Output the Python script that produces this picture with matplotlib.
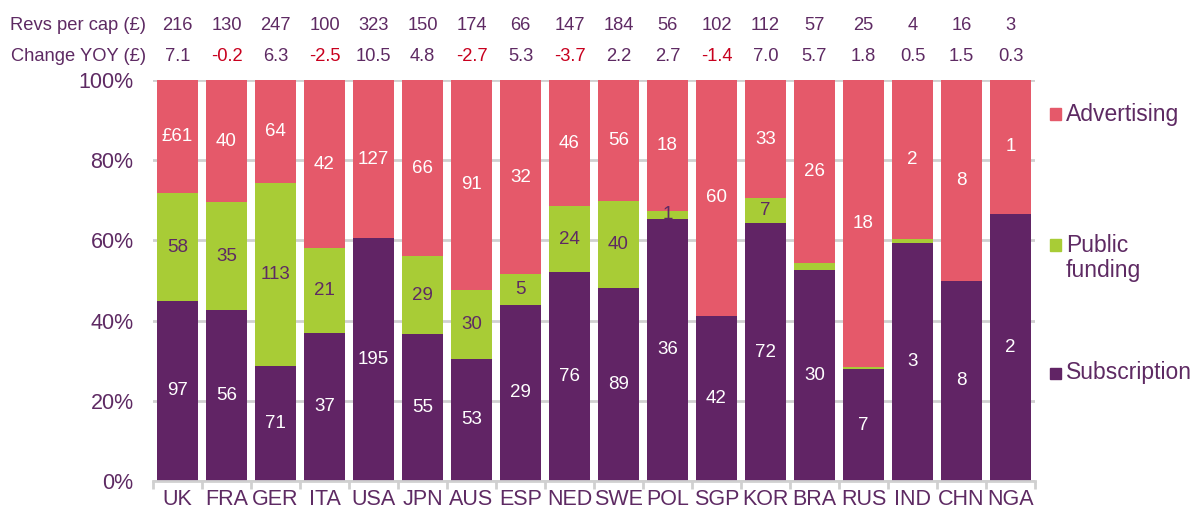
import matplotlib
matplotlib.use("Agg")
import matplotlib.pyplot as plt
from matplotlib.patches import Rectangle
from matplotlib.transforms import blended_transform_factory

plt.rcParams["font.family"] = ["Liberation Sans", "DejaVu Sans"]

countries = ["UK", "FRA", "GER", "ITA", "USA", "JPN", "AUS", "ESP", "NED",
             "SWE", "POL", "SGP", "KOR", "BRA", "RUS", "IND", "CHN", "NGA"]
subscription = [97, 56, 71, 37, 195, 55, 53, 29, 76, 89, 36, 42, 72, 30, 7, 3, 8, 2]
public_funding = [58, 35, 113, 21, 0, 29, 30, 5, 24, 40, 1, 0, 7, 1, 0.15, 0.05, 0, 0]
advertising = [61, 40, 64, 42, 127, 66, 91, 32, 46, 56, 18, 60, 33, 26, 18, 2, 8, 1]
public_labelled = [True, True, True, True, False, True, True, True, True, True,
                   True, False, True, False, False, False, False, False]
revs_per_cap = ["216", "130", "247", "100", "323", "150", "174", "66", "147",
                "184", "56", "102", "112", "57", "25", "4", "16", "3"]
change_yoy = ["7.1", "-0.2", "6.3", "-2.5", "10.5", "4.8", "-2.7", "5.3", "-3.7",
              "2.2", "2.7", "-1.4", "7.0", "5.7", "1.8", "0.5", "1.5", "0.3"]
y_ticks = [0, 20, 40, 60, 80, 100]

PURPLE = "#612465"
GREEN = "#A8CC36"
PINK = "#E5596A"
TEXT = "#5E2A63"
GRID = "#D0D0D0"

fig = plt.figure(figsize=(11.94, 5.14), dpi=100)
W, H = 1194, 514
ax = fig.add_axes([153 / W, 33 / H, 882 / W, 401 / H])

x = list(range(len(countries)))
totals = [s + p + a for s, p, a in zip(subscription, public_funding, advertising)]
sub_pct = [100 * s / t for s, t in zip(subscription, totals)]
pub_pct = [100 * p / t for p, t in zip(public_funding, totals)]
adv_pct = [100 * a / t for a, t in zip(advertising, totals)]
pub_bottom = sub_pct
adv_bottom = [s + p for s, p in zip(sub_pct, pub_pct)]

bw = 0.83
ax.bar(x, sub_pct, width=bw, color=PURPLE, zorder=2)
ax.bar(x, pub_pct, width=bw, bottom=pub_bottom, color=GREEN, zorder=2)
ax.bar(x, adv_pct, width=bw, bottom=adv_bottom, color=PINK, zorder=2)

fs_bar = 13.5
for i in x:
    ax.text(i, sub_pct[i] / 2, f"{subscription[i]}", ha="center", va="center",
            color="white", fontsize=fs_bar, zorder=3)
    if public_labelled[i]:
        ax.text(i, pub_bottom[i] + pub_pct[i] / 2, f"{public_funding[i]:g}",
                ha="center", va="center", color=TEXT, fontsize=fs_bar, zorder=3)
    lab = f"£{advertising[i]}" if i == 0 else f"{advertising[i]}"
    ax.text(i, adv_bottom[i] + adv_pct[i] / 2, lab, ha="center", va="center",
            color="white", fontsize=fs_bar, zorder=3)

ax.set_xlim(-0.5, len(countries) - 0.5)
ax.set_ylim(0, 100)
ax.set_yticks(y_ticks)
ax.set_yticklabels([f"{v}%" for v in y_ticks], fontsize=15.5, color=TEXT)
ax.tick_params(axis="y", length=0, pad=14)
ax.yaxis.grid(True, color=GRID, linewidth=2, zorder=0)
ax.set_axisbelow(True)

ax.set_xticks(x)
ax.set_xticklabels(countries, fontsize=15.5, color=TEXT)
ax.tick_params(axis="x", which="major", length=0, pad=6)
ax.set_xticks([i - 0.5 for i in range(len(countries) + 1)], minor=True)
ax.tick_params(axis="x", which="minor", length=6, width=2, color=GRID)

for side in ["top", "right", "left"]:
    ax.spines[side].set_visible(False)
ax.spines["bottom"].set_color(GRID)
ax.spines["bottom"].set_linewidth(2)

# header rows above the bars
tr = blended_transform_factory(ax.transData, fig.transFigure)
y1 = 1 - 25 / H
y2 = 1 - 56 / H
fig.text(146 / W, y1, "Revs per cap (£)", ha="right", va="center", color=TEXT, fontsize=13.2)
fig.text(146 / W, y2, "Change YOY (£)", ha="right", va="center", color=TEXT, fontsize=13.2)
for i in x:
    ax.text(i, y1, revs_per_cap[i], transform=tr, ha="center", va="center",
            color=TEXT, fontsize=13.2, clip_on=False)
    val = change_yoy[i]
    col = "#C8001E" if val.startswith("-") else TEXT
    ax.text(i, y2, val, transform=tr, ha="center", va="center",
            color=col, fontsize=13.2, clip_on=False)

# legend
legend_items = [("Advertising", PINK, 114, 114), ("Public\nfunding", GREEN, 245, 258),
                ("Subscription", PURPLE, 373, 373)]
sq = 11
for label, col, ysq, ytxt in legend_items:
    fig.add_artist(Rectangle((1050 / W, (H - ysq - sq / 2) / H), sq / W, sq / H,
                             transform=fig.transFigure, color=col))
    fig.text(1066 / W, (H - ytxt) / H, label, ha="left", va="center",
             color=TEXT, fontsize=16.5, linespacing=1.12)

fig.savefig("out.png", dpi=100)
